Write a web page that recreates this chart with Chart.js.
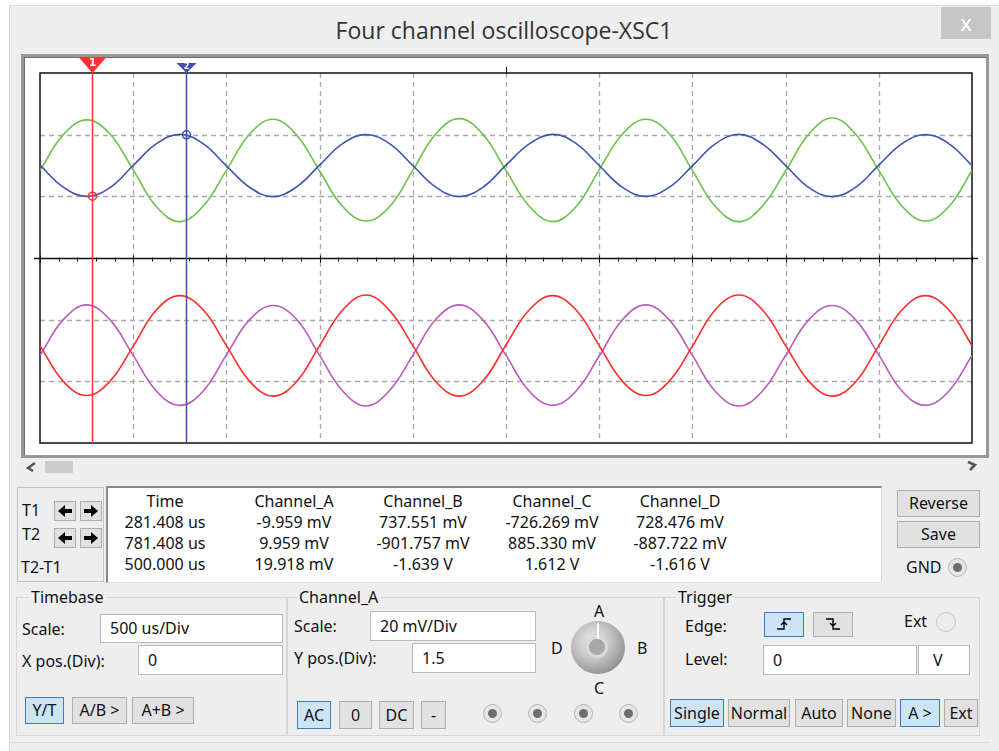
<!DOCTYPE html>
<html>
<head>
<meta charset="utf-8">
<script src="https://cdn.jsdelivr.net/npm/chart.js@4"></script>
<style>
  body { margin:0; width:999px; height:751px; background:#fff; position:relative; overflow:hidden;
         font-family:"Noto Sans", sans-serif; font-size:16px; color:#111; }
  .a { position:absolute; }
  .lbl { position:absolute; line-height:20px; white-space:nowrap; }
  .btn { position:absolute; box-sizing:border-box; background:#e1e1e1; border:1px solid #adadad;
         text-align:center; white-space:nowrap; }
  .btn.on { background:#cce4f7; border-color:#3d7fb5; }
  .inp { position:absolute; box-sizing:border-box; background:#fff; border:1px solid #b8b8b8;
         padding-left:9px; white-space:nowrap; }
  .grp { position:absolute; box-sizing:border-box; border:1px solid #d6d6d6; }
  .grp span { position:absolute; top:-11px; background:#eeeeee; padding:0 2px; line-height:20px; }
  .col { position:absolute; top:491px; width:130px; text-align:center; line-height:21px; white-space:nowrap; }
  .radio { position:absolute; box-sizing:border-box; border-radius:50%; background:#e6e6e6; border:1px solid #b4b4b4; }
  .radio i { position:absolute; left:4px; top:4px; width:9px; height:9px; border-radius:50%; background:#6d6d6d; }
</style>
</head>
<body>
<div class="a" style="left:9px;top:5px;width:990px;height:746px;background:#eeeeee;border-left:1px solid #d2d2d2;border-top:1px solid #dadada;"></div>
<div class="a" style="left:9px;top:15px;width:990px;text-align:center;font-family:'Open Sans',sans-serif;font-size:23px;line-height:30px;color:#333;">Four channel oscilloscope-XSC1</div>
<div class="a" style="left:941px;top:7px;width:50px;height:32px;background:#c6c6c6;color:#fff;text-align:center;font-size:22px;line-height:30px;">x</div>

<!-- scope screen -->
<div class="a" style="left:21px;top:54px;width:968px;height:404px;box-sizing:border-box;border:3px solid #979797;box-shadow:inset 1px 1px 0 #6e6e6e;background:#fff;"></div>
<canvas id="scope" class="a" width="962" height="398" style="left:24px;top:57px;"></canvas>

<!-- scrollbar -->
<svg class="a" style="left:24px;top:461px" width="14" height="12"><path d="M11 2 L4 7 L9 10" fill="none" stroke="#555" stroke-width="2.5"/></svg>
<div class="a" style="left:45px;top:461px;width:28px;height:12px;background:#cdcdcd;"></div>
<svg class="a" style="left:965px;top:460px" width="14" height="12"><path d="M3 2 L10 5 L5 10" fill="none" stroke="#555" stroke-width="2.5"/></svg>

<!-- cursor buttons -->
<div class="a" style="left:17px;top:487px;width:87px;height:95px;box-sizing:border-box;border:1px solid #c4c4c4;"></div>
<div class="lbl" style="left:22px;top:500px;">T1</div>
<div class="lbl" style="left:22px;top:524px;">T2</div>
<div class="lbl" style="left:21px;top:557px;">T2-T1</div>
<div class="btn" style="left:54px;top:501px;width:22px;height:20px;"><svg width="18" height="16" style="margin-top:1px"><path d="M2 8 L9 2 L9 6 L16 6 L16 10 L9 10 L9 14 Z" fill="#000"/></svg></div>
<div class="btn" style="left:80px;top:501px;width:22px;height:20px;"><svg width="18" height="16" style="margin-top:1px"><path d="M16 8 L9 2 L9 6 L2 6 L2 10 L9 10 L9 14 Z" fill="#000"/></svg></div>
<div class="btn" style="left:54px;top:528px;width:22px;height:20px;"><svg width="18" height="16" style="margin-top:1px"><path d="M2 8 L9 2 L9 6 L16 6 L16 10 L9 10 L9 14 Z" fill="#000"/></svg></div>
<div class="btn" style="left:80px;top:528px;width:22px;height:20px;"><svg width="18" height="16" style="margin-top:1px"><path d="M16 8 L9 2 L9 6 L2 6 L2 10 L9 10 L9 14 Z" fill="#000"/></svg></div>

<!-- readout -->
<div class="a" style="left:106px;top:486px;width:776px;height:97px;box-sizing:border-box;background:#fff;border-top:2px solid #8a8a8a;border-left:2px solid #8a8a8a;border-right:1px solid #dcdcdc;border-bottom:1px solid #dcdcdc;"></div>
<div id="readout"></div>

<div class="btn" style="left:897px;top:490px;width:83px;height:27px;line-height:25px;">Reverse</div>
<div class="btn" style="left:897px;top:521px;width:83px;height:27px;line-height:25px;">Save</div>
<div class="lbl" style="left:906px;top:557px;">GND</div>
<div class="radio" style="left:948px;top:558px;width:19px;height:19px;"><i></i></div>

<!-- Timebase -->
<div class="grp" style="left:16px;top:597px;width:271px;height:139px;"><span style="left:12px;">Timebase</span></div>
<div class="lbl" style="left:22px;top:619px;">Scale:</div>
<div class="inp" style="left:100px;top:614px;width:183px;height:29px;line-height:27px;">500 us/Div</div>
<div class="lbl" style="left:22px;top:651px;">X pos.(Div):</div>
<div class="inp" style="left:138px;top:645px;width:145px;height:30px;line-height:28px;">0</div>
<div class="btn on" style="left:25px;top:697px;width:39px;height:27px;line-height:25px;">Y/T</div>
<div class="btn" style="left:72px;top:697px;width:55px;height:27px;line-height:25px;">A/B &gt;</div>
<div class="btn" style="left:132px;top:697px;width:62px;height:27px;line-height:25px;">A+B &gt;</div>

<!-- Channel_A -->
<div class="grp" style="left:287px;top:597px;width:377px;height:139px;"><span style="left:9px;">Channel_A</span></div>
<div class="lbl" style="left:294px;top:616px;">Scale:</div>
<div class="inp" style="left:370px;top:611px;width:166px;height:30px;line-height:28px;">20 mV/Div</div>
<div class="lbl" style="left:294px;top:648px;">Y pos.(Div):</div>
<div class="inp" style="left:412px;top:643px;width:124px;height:30px;line-height:28px;">1.5</div>
<div class="btn on" style="left:297px;top:701px;width:34px;height:28px;line-height:26px;">AC</div>
<div class="btn" style="left:339px;top:701px;width:33px;height:28px;line-height:26px;">0</div>
<div class="btn" style="left:379px;top:701px;width:35px;height:28px;line-height:26px;">DC</div>
<div class="btn" style="left:421px;top:701px;width:25px;height:28px;line-height:26px;">-</div>
<div class="radio" style="left:483px;top:704px;width:19px;height:19px;"><i></i></div>
<div class="radio" style="left:528px;top:704px;width:19px;height:19px;"><i></i></div>
<div class="radio" style="left:574px;top:704px;width:19px;height:19px;"><i></i></div>
<div class="radio" style="left:619px;top:704px;width:19px;height:19px;"><i></i></div>
<div class="lbl" style="left:594px;top:601px;">A</div>
<div class="lbl" style="left:637px;top:638px;">B</div>
<div class="lbl" style="left:594px;top:678px;">C</div>
<div class="lbl" style="left:551px;top:638px;">D</div>
<div class="a" style="left:571px;top:621px;width:54px;height:53px;border-radius:50%;background:radial-gradient(circle at 40% 38%, #e8e8e8 0%, #c9c9c9 35%, #9a9a9a 70%, #6a6a6a 100%);"></div>
<div class="a" style="left:586px;top:636px;width:22px;height:22px;border-radius:50%;border:3px solid #dadada;box-sizing:border-box;background:#a8a8a8;"></div>
<div class="a" style="left:597px;top:623px;width:2px;height:16px;background:#fafafa;"></div>

<!-- Trigger -->
<div class="grp" style="left:664px;top:597px;width:316px;height:139px;"><span style="left:11px;">Trigger</span></div>
<div class="lbl" style="left:685px;top:616px;">Edge:</div>
<div class="btn on" style="left:764px;top:612px;width:40px;height:25px;"><svg width="30" height="20" style="margin-top:1px"><path d="M8 15 L15 15 L15 5 L22 5 M12 11 L15 8 L18 11" fill="none" stroke="#000" stroke-width="1.4"/></svg></div>
<div class="btn" style="left:813px;top:612px;width:40px;height:25px;"><svg width="30" height="20" style="margin-top:1px"><path d="M8 5 L15 5 L15 15 L22 15 M12 9 L15 12 L18 9" fill="none" stroke="#000" stroke-width="1.4"/></svg></div>
<div class="lbl" style="left:904px;top:611px;">Ext</div>
<div class="a" style="left:936px;top:612px;width:20px;height:20px;box-sizing:border-box;border-radius:50%;border:1px solid #c4c4c4;background:#ececec;"></div>
<div class="lbl" style="left:685px;top:649px;">Level:</div>
<div class="inp" style="left:763px;top:645px;width:154px;height:30px;line-height:28px;">0</div>
<div class="inp" style="left:918px;top:645px;width:52px;height:30px;line-height:28px;padding-left:14px;">V</div>
<div class="btn on" style="left:670px;top:699px;width:54px;height:28px;line-height:26px;">Single</div>
<div class="btn" style="left:728px;top:699px;width:62px;height:28px;line-height:26px;">Normal</div>
<div class="btn" style="left:795px;top:699px;width:48px;height:28px;line-height:26px;">Auto</div>
<div class="btn" style="left:847px;top:699px;width:49px;height:28px;line-height:26px;">None</div>
<div class="btn on" style="left:900px;top:699px;width:40px;height:28px;line-height:26px;">A &gt;</div>
<div class="btn" style="left:944px;top:699px;width:34px;height:28px;line-height:26px;">Ext</div>
<div class="a" style="left:10px;top:742px;width:980px;height:1px;background:#dadada;"></div>

<script>
// sample times (us), one point every quarter division
const timeUs = [0, 125, 250, 375, 500, 625, 750, 875, 1000, 1125, 1250, 1375, 1500, 1625, 1750, 1875,
  2000, 2125, 2250, 2375, 2500, 2625, 2750, 2875, 3000, 3125, 3250, 3375, 3500, 3625, 3750, 3875,
  4000, 4125, 4250, 4375, 4500, 4625, 4750, 4875, 5000];

// Channel_A (mV), blue trace
const chA = [0.1, -7.0, -10.0, -7.2, 0.0, 7.1, 10.1, 7.1, -0.1, -7.1, -10.1, -7.0, 0.1, 7.2, 10.0, 7.1,
  0.0, -7.1, -10.1, -7.1, 0.1, 7.0, 10.1, 7.2, 0.0, -7.1, -10.0, -7.1, -0.1, 7.1, 10.1, 7.0,
  0.0, -7.2, -10.1, -7.1, 0.1, 7.1, 10.0, 7.1, 0.0];
// Channel_B (V), green trace
const chB = [-0.08, 0.50, 0.74, 0.51, -0.07, -0.67, -0.91, -0.66, -0.08, 0.51, 0.75, 0.50, -0.09, -0.67, -0.90, -0.67,
  -0.08, 0.52, 0.76, 0.51, -0.08, -0.66, -0.91, -0.67, -0.07, 0.51, 0.75, 0.52, -0.08, -0.67, -0.91, -0.66,
  -0.09, 0.51, 0.77, 0.51, -0.08, -0.66, -0.90, -0.67, -0.08];
// Channel_C (V), red trace
const chC = [0.08, -0.50, -0.73, -0.50, 0.07, 0.66, 0.89, 0.66, 0.08, -0.50, -0.74, -0.51, 0.08, 0.66, 0.90, 0.65,
  0.08, -0.51, -0.74, -0.50, 0.09, 0.66, 0.89, 0.66, 0.08, -0.50, -0.73, -0.50, 0.07, 0.67, 0.90, 0.66,
  0.08, -0.50, -0.74, -0.51, 0.08, 0.66, 0.89, 0.66, 0.08];
// Channel_D (V), magenta trace
const chD = [-0.08, 0.50, 0.74, 0.50, -0.08, -0.66, -0.89, -0.66, -0.07, 0.50, 0.73, 0.51, -0.08, -0.66, -0.90, -0.65,
  -0.08, 0.51, 0.74, 0.50, -0.08, -0.66, -0.89, -0.66, -0.09, 0.50, 0.74, 0.50, -0.08, -0.67, -0.90, -0.66,
  -0.08, 0.50, 0.73, 0.50, -0.07, -0.66, -0.89, -0.66, -0.08];

const channelNames = ["Channel_A", "Channel_B", "Channel_C", "Channel_D"];
const channelScale = [20, 1, 1, 1];      // units per division
const channelPos = [1.5, 1.5, -1.5, -1.5]; // Y pos (Div)
const channelColor = ["#3b55b3", "#6cc248", "#ff2b2b", "#b95bb9"];

// cursors
const cursorTimes = [281.408, 781.408];
const cursorColor = ["#ff3030", "#3f51b0"];
const cursorA = [-9.959, 9.959];

// readout table
const readHeader = ["Time", "Channel_A", "Channel_B", "Channel_C", "Channel_D"];
const readT1 = ["281.408 us", "-9.959 mV", "737.551 mV", "-726.269 mV", "728.476 mV"];
const readT2 = ["781.408 us", "9.959 mV", "-901.757 mV", "885.330 mV", "-887.722 mV"];
const readDiff = ["500.000 us", "19.918 mV", "-1.639 V", "1.612 V", "-1.616 V"];
const readCenters = [165, 294, 423, 552, 680];

const divTicksX = [500, 1000, 1500, 2000, 2500, 3000, 3500, 4000, 4500];
const divTicksY = [-2, -1, 1, 2];

const ro = document.getElementById("readout");
readHeader.forEach((h, i) => {
  const d = document.createElement("div");
  d.className = "col";
  d.style.left = (readCenters[i] - 65) + "px";
  d.innerHTML = [h, readT1[i], readT2[i], readDiff[i]].join("<br>");
  ro.appendChild(d);
});

const toDiv = (v, ch) => v / channelScale[ch] + channelPos[ch];
const series = [chA, chB, chC, chD];

const screenPlugin = {
  id: "screen",
  beforeDatasetsDraw(chart) {
    const { ctx, chartArea: a, scales: { x, y } } = chart;
    ctx.save();
    ctx.strokeStyle = "#a9a9a9";
    ctx.lineWidth = 1.3;
    ctx.setLineDash([5, 4]);
    divTicksX.forEach(t => {
      const px = Math.round(x.getPixelForValue(t)) + 0.5;
      ctx.beginPath(); ctx.moveTo(px, a.top); ctx.lineTo(px, a.bottom); ctx.stroke();
    });
    divTicksY.forEach(v => {
      const py = Math.round(y.getPixelForValue(v)) + 0.5;
      ctx.beginPath(); ctx.moveTo(a.left, py); ctx.lineTo(a.right, py); ctx.stroke();
    });
    ctx.setLineDash([]);
    // centre axis with division ticks
    const y0 = Math.round(y.getPixelForValue(0)) + 0.5;
    ctx.strokeStyle = "#111";
    ctx.lineWidth = 1.5;
    ctx.beginPath(); ctx.moveTo(a.left - 6, y0); ctx.lineTo(a.right + 6, y0); ctx.stroke();
    ctx.lineWidth = 1;
    for (let t = 0; t <= 5000; t += 100) {
      const px = Math.round(x.getPixelForValue(t)) + 0.5;
      const major = t % 500 === 0;
      ctx.beginPath();
      ctx.moveTo(px, y0 - (major ? 3 : 1));
      ctx.lineTo(px, y0 + (major ? 4 : 3));
      ctx.stroke();
    }
    const xm = Math.round(x.getPixelForValue(2500)) + 0.5;
    ctx.beginPath(); ctx.moveTo(xm, a.top - 6); ctx.lineTo(xm, a.top); ctx.stroke();
    // frame
    ctx.lineWidth = 1.5;
    ctx.strokeRect(a.left, a.top, a.right - a.left, a.bottom - a.top);
    ctx.restore();
  },
  afterDatasetsDraw(chart) {
    const { ctx, chartArea: a, scales: { x, y } } = chart;
    ctx.save();
    cursorTimes.forEach((t, i) => {
      const px = Math.round(x.getPixelForValue(t)) + 0.5;
      ctx.strokeStyle = cursorColor[i];
      ctx.lineWidth = 1.5;
      ctx.beginPath(); ctx.moveTo(px, a.top - 2); ctx.lineTo(px, a.bottom); ctx.stroke();
      const w = i === 0 ? 14 : 10, top = i === 0 ? 0 : 6, h = i === 0 ? 16 : 10;
      ctx.fillStyle = cursorColor[i];
      ctx.beginPath(); ctx.moveTo(px - w, top); ctx.lineTo(px + w, top); ctx.lineTo(px, top + h); ctx.closePath(); ctx.fill();
      ctx.fillStyle = "#fff";
      ctx.font = (i === 0 ? "bold 11px" : "bold 8px") + " 'DejaVu Sans'";
      ctx.textAlign = "center"; ctx.textBaseline = "middle";
      ctx.fillText(String(i + 1), px, top + (i === 0 ? 6 : 4));
      // marker on Channel_A trace
      const py = y.getPixelForValue(toDiv(cursorA[i], 0));
      ctx.strokeStyle = cursorColor[i];
      ctx.lineWidth = 1.5;
      ctx.beginPath(); ctx.arc(px, py, 4, 0, Math.PI * 2); ctx.stroke();
    });
    ctx.restore();
  }
};

new Chart(document.getElementById("scope").getContext("2d"), {
  type: "line",
  data: {
    datasets: series.map((vals, ch) => ({
      label: channelNames[ch],
      data: timeUs.map((t, i) => ({ x: t, y: toDiv(vals[i], ch) })),
      borderColor: channelColor[ch],
      borderWidth: 1.6,
      pointRadius: 0,
      tension: 0.4,
      fill: false,
    })),
  },
  options: {
    responsive: false,
    animation: false,
    layout: { padding: { left: 16, top: 16, right: 14, bottom: 12 } },
    plugins: { legend: { display: false }, tooltip: { enabled: false } },
    scales: {
      x: { type: "linear", min: 0, max: 5000, display: false },
      y: { type: "linear", min: -3, max: 3, display: false },
    },
  },
  plugins: [screenPlugin],
});
</script>
</body>
</html>
